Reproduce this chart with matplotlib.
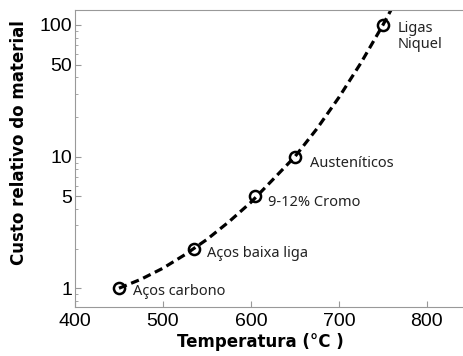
import numpy as np
import matplotlib
matplotlib.use('Agg')
import matplotlib.pyplot as plt

# material data points (temperature in C, relative cost)
temp = [450, 535, 605, 650, 750]
cost = [1, 2, 5, 10, 100]
labels = ['Aços carbono', 'Aços baixa liga', '9-12% Cromo', 'Austeníticos', 'Ligas\nNiquel']
label_x = [466, 550, 619, 667, 767]
label_y = [0.94, 1.85, 4.5, 8.9, 82]

# dashed trend curve
curve_t = [450, 475, 500, 525, 550, 575, 600, 625, 650, 675, 700, 725, 750, 762]
curve_c = [1.0, 1.17, 1.42, 1.8, 2.35, 3.2, 4.5, 6.7, 10, 16.3, 28.2, 51.5, 100, 141]

fig = plt.figure(figsize=(4.63, 3.56), dpi=100)
ax = fig.add_axes([0.162, 0.1376, 0.838, 0.8344])

ax.plot(curve_t, curve_c, color='black', lw=2.3, ls=(0, (2.6, 1.5)))
ax.plot(temp, cost, 'o', mfc='none', mec='black', ms=8, mew=1.8)

for lx, ly, txt in zip(label_x, label_y, labels):
    ax.text(lx, ly, txt, fontsize=10.5, family='Noto Sans', va='center', ha='left',
            color='#222222', linespacing=1.1)

ax.set_yscale('log')
ax.set_xlim(400, 841)
ax.set_ylim(0.72, 130)
ax.set_xticks([400, 500, 600, 700, 800])
ax.set_yticks([1, 5, 10, 50, 100])
ax.set_yticklabels(['1', '5', '10', '50', '100'])
ax.tick_params(which='both', direction='in', colors='#999999', labelcolor='black')
ax.tick_params(which='major', length=4, labelsize=14)
ax.tick_params(axis='y', which='major', pad=2)
ax.tick_params(axis='x', which='major', pad=4)
ax.tick_params(which='minor', length=2)
for lab in ax.get_xticklabels() + ax.get_yticklabels():
    lab.set_family('Liberation Sans')

for s in ['left', 'top', 'bottom']:
    ax.spines[s].set_color('#999999')
ax.spines['right'].set_visible(False)

ax.set_xlabel('Temperatura (°C )', fontsize=12, fontweight='bold')
ax.set_ylabel('Custo relativo do material', fontsize=12, fontweight='bold')
ax.xaxis.set_label_coords(0.479, -0.088)
ax.yaxis.set_label_coords(-0.121, 0.554)

fig.savefig('out.png', dpi=100)
